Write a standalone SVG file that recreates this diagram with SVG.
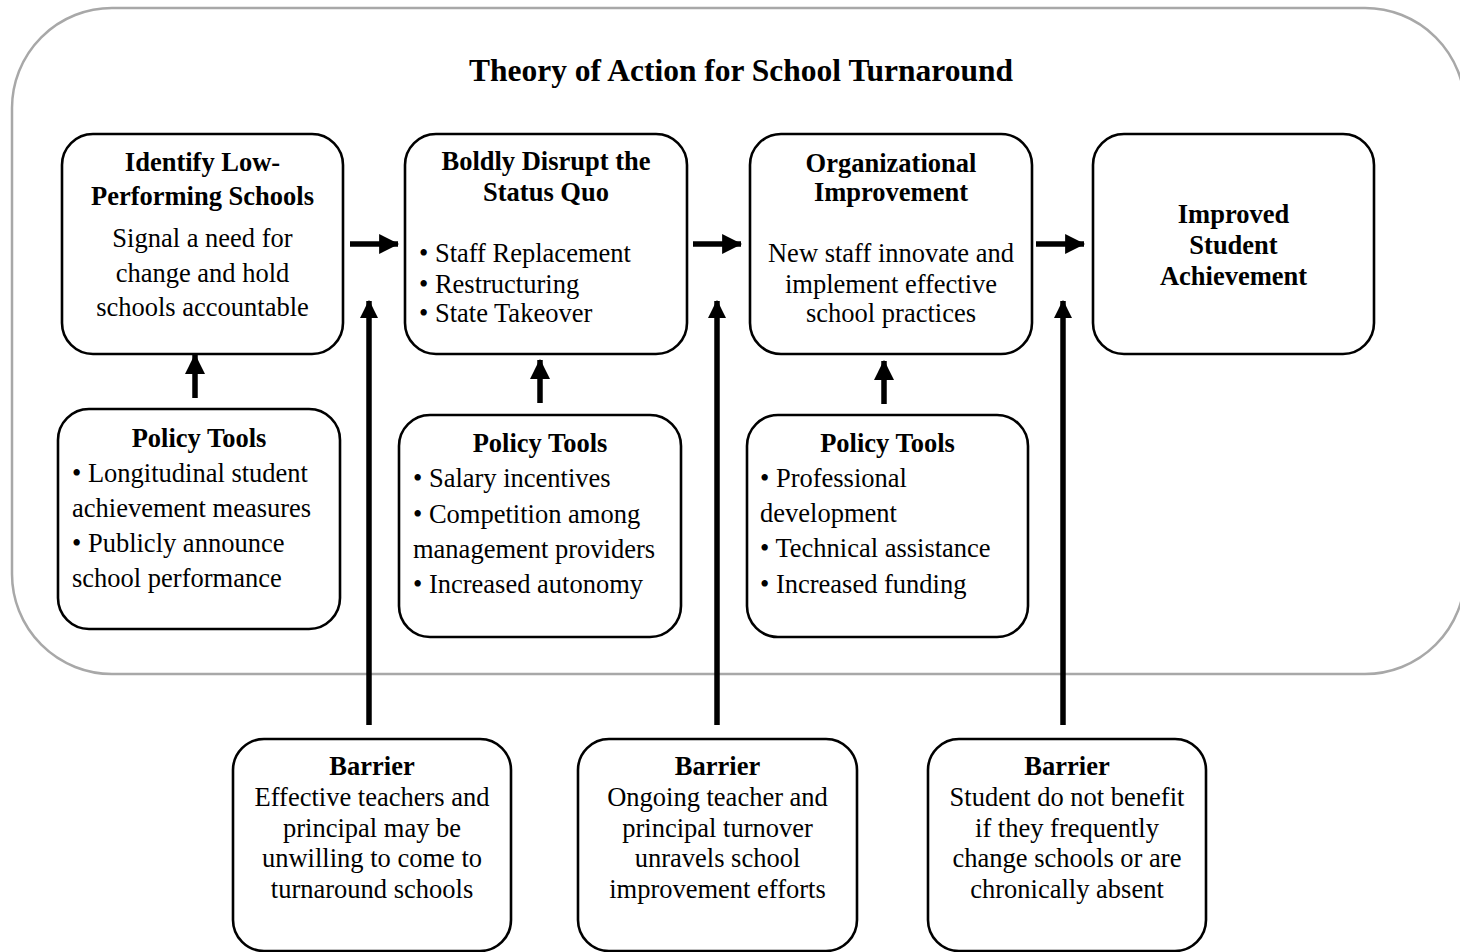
<svg xmlns="http://www.w3.org/2000/svg" width="1460" height="952" viewBox="0 0 1460 952">
  <style>
    .frame { fill: #ffffff; stroke: #a8a8a8; stroke-width: 2.5; }
    .box { fill: #ffffff; stroke: #000000; stroke-width: 2.6; }
    .t { font-family: "Liberation Serif", "Times New Roman", serif; font-size: 26.5px; fill: #000000; }
    .b { font-weight: bold; }
    .c { text-anchor: middle; }
    .title { font-family: "Liberation Serif", "Times New Roman", serif; font-size: 31.5px; font-weight: bold; text-anchor: middle; fill: #000000; }
    .arrow { stroke: #000000; stroke-width: 5.5; fill: none; }
  </style>
  <defs>
    <marker id="head" markerUnits="userSpaceOnUse" markerWidth="20" markerHeight="20" viewBox="0 0 18 18" refX="17" refY="9" orient="auto">
      <path d="M0,0 L18,9 L0,18 Z" fill="#000000"/>
    </marker>
    <marker id="headSlim" markerUnits="userSpaceOnUse" markerWidth="18" markerHeight="18" viewBox="0 0 16 16" refX="15" refY="8" orient="auto">
      <path d="M0,0 L16,8 L0,16 Z" fill="#000000"/>
    </marker>
  </defs>

  <rect width="1460" height="952" fill="#ffffff"/>

  <!-- outer frame -->
  <rect id="frame" class="frame" x="12" y="8" width="1453" height="666" rx="100" ry="100"/>

  <text id="title" class="title" x="741" y="81">Theory of Action for School Turnaround</text>

  <!-- main chain -->
  <g id="identify">
    <rect class="box" x="62" y="134" width="281" height="220" rx="31"/>
    <text class="t b c" x="202.5" y="171">Identify Low-</text>
    <text class="t b c" x="202.5" y="205">Performing Schools</text>
    <text class="t c" x="202.5" y="247">Signal a need for</text>
    <text class="t c" x="202.5" y="282">change and hold</text>
    <text class="t c" x="202.5" y="316">schools accountable</text>
  </g>

  <g id="disrupt">
    <rect class="box" x="405" y="134" width="282" height="220" rx="31"/>
    <text class="t b c" x="546" y="170">Boldly Disrupt the</text>
    <text class="t b c" x="546" y="201">Status Quo</text>
    <text class="t" x="419" y="262">• Staff Replacement</text>
    <text class="t" x="419" y="293">• Restructuring</text>
    <text class="t" x="419" y="322">• State Takeover</text>
  </g>

  <g id="organizational">
    <rect class="box" x="750" y="134" width="282" height="220" rx="31"/>
    <text class="t b c" x="891" y="172">Organizational</text>
    <text class="t b c" x="891" y="201">Improvement</text>
    <text class="t c" x="891" y="262">New staff innovate and</text>
    <text class="t c" x="891" y="293">implement effective</text>
    <text class="t c" x="891" y="322">school practices</text>
  </g>

  <g id="achievement">
    <rect class="box" x="1093" y="134" width="281" height="220" rx="31"/>
    <text class="t b c" x="1233.5" y="223">Improved</text>
    <text class="t b c" x="1233.5" y="254">Student</text>
    <text class="t b c" x="1233.5" y="285">Achievement</text>
  </g>

  <!-- policy tools -->
  <g id="tools-identify">
    <rect class="box" x="58" y="409" width="282" height="220" rx="31"/>
    <text class="t b c" x="199" y="447">Policy Tools</text>
    <text class="t" x="72" y="482">• Longitudinal student</text>
    <text class="t" x="72" y="517">achievement measures</text>
    <text class="t" x="72" y="552">• Publicly announce</text>
    <text class="t" x="72" y="587">school performance</text>
  </g>

  <g id="tools-disrupt">
    <rect class="box" x="399" y="415" width="282" height="222" rx="31"/>
    <text class="t b c" x="540" y="452">Policy Tools</text>
    <text class="t" x="413" y="487">• Salary incentives</text>
    <text class="t" x="413" y="522.5">• Competition among</text>
    <text class="t" x="413" y="557.5">management providers</text>
    <text class="t" x="413" y="593">• Increased autonomy</text>
  </g>

  <g id="tools-organizational">
    <rect class="box" x="747" y="415" width="281" height="222" rx="31"/>
    <text class="t b c" x="887.5" y="452">Policy Tools</text>
    <text class="t" x="760" y="487">• Professional</text>
    <text class="t" x="760" y="522">development</text>
    <text class="t" x="760" y="557">• Technical assistance</text>
    <text class="t" x="760" y="593">• Increased funding</text>
  </g>

  <!-- barriers -->
  <g id="barrier-staffing">
    <rect class="box" x="233" y="739" width="278" height="212" rx="31"/>
    <text class="t b c" x="372" y="775">Barrier</text>
    <text class="t c" x="372" y="806">Effective teachers and</text>
    <text class="t c" x="372" y="837">principal may be</text>
    <text class="t c" x="372" y="867">unwilling to come to</text>
    <text class="t c" x="372" y="898">turnaround schools</text>
  </g>

  <g id="barrier-turnover">
    <rect class="box" x="578" y="739" width="279" height="212" rx="31"/>
    <text class="t b c" x="717.5" y="775">Barrier</text>
    <text class="t c" x="717.5" y="806">Ongoing teacher and</text>
    <text class="t c" x="717.5" y="837">principal turnover</text>
    <text class="t c" x="717.5" y="867">unravels school</text>
    <text class="t c" x="717.5" y="898">improvement efforts</text>
  </g>

  <g id="barrier-mobility">
    <rect class="box" x="928" y="739" width="278" height="212" rx="31"/>
    <text class="t b c" x="1067" y="775">Barrier</text>
    <text class="t c" x="1067" y="806">Student do not benefit</text>
    <text class="t c" x="1067" y="837">if they frequently</text>
    <text class="t c" x="1067" y="867">change schools or are</text>
    <text class="t c" x="1067" y="898">chronically absent</text>
  </g>

  <!-- connectors -->
  <g id="connectors">
    <line class="arrow" x1="350" y1="244" x2="398" y2="244" marker-end="url(#head)"/>
    <line class="arrow" x1="693" y1="244" x2="741" y2="244" marker-end="url(#head)"/>
    <line class="arrow" x1="1036" y1="244" x2="1084" y2="244" marker-end="url(#head)"/>

    <line class="arrow" x1="195" y1="398" x2="195" y2="355" marker-end="url(#head)"/>
    <line class="arrow" x1="540" y1="403" x2="540" y2="360" marker-end="url(#head)"/>
    <line class="arrow" x1="884" y1="404" x2="884" y2="361" marker-end="url(#head)"/>

    <line class="arrow" x1="369" y1="725" x2="369" y2="301" marker-end="url(#headSlim)"/>
    <line class="arrow" x1="717" y1="725" x2="717" y2="301" marker-end="url(#headSlim)"/>
    <line class="arrow" x1="1063" y1="725" x2="1063" y2="301" marker-end="url(#headSlim)"/>
  </g>
</svg>
